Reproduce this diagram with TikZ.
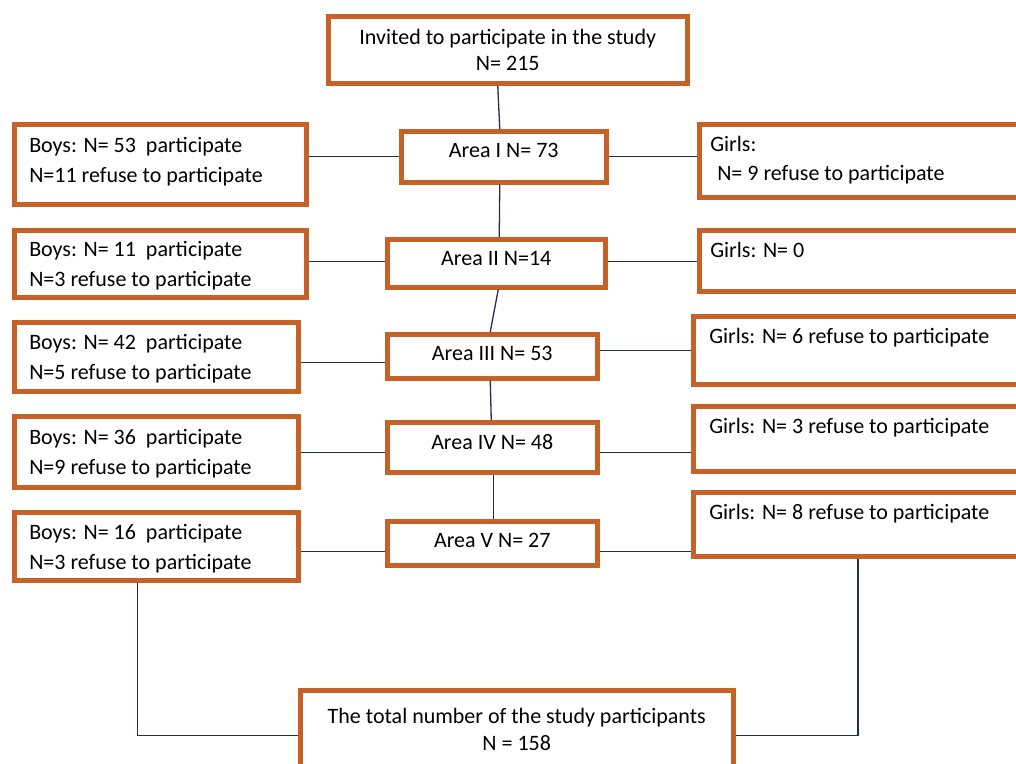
\documentclass[tikz,border=0pt]{standalone}
\usepackage{fontspec}
\setmainfont{Carlito}
\definecolor{boxorange}{RGB}{198,98,40}
\definecolor{linkblue}{RGB}{35,45,78}

\begin{document}
\begin{tikzpicture}[x=1pt,y=-1pt,
    box/.style={draw=boxorange,line width=4.5pt,anchor=north west,inner sep=0pt,font=\fontsize{22}{30}\selectfont,
        execute at begin node={\spaceskip=0pt\xspaceskip=0pt}},
    area/.style={box,minimum width=210pt,minimum height=46pt,text depth=6pt},
    boys/.style={box,align=flush left,inner xsep=15pt,text width=252pt,text depth=29pt,minimum height=70pt},
    girls/.style={box,align=flush left,inner xsep=16pt,text width=340pt,text height=27pt},
    link/.style={draw=linkblue,line width=1.3pt}]
\useasboundingbox (0,0) rectangle (1016,763);
\clip (0,0) rectangle (1016,763);

% centre column
\node[box,align=center,minimum width=359pt,minimum height=67pt] (invite) at (326,14) {Invited to participate in the study\\[-4pt]N= 215};
\node[area,minimum width=205pt,minimum height=51pt,text depth=12pt] (a1) at (399,129) {Area I N= 73};
\node[area,minimum width=218pt,minimum height=48pt,text depth=10pt] (a2) at (385,237) {Area II N=14};
\node[area,minimum height=44pt] (a3) at (385,332) {Area III N= 53};
\node[area,minimum height=50pt,text depth=10pt] (a4) at (385,420) {Area IV N= 48};
\node[area,minimum height=44pt] (a5) at (385,519) {Area V N= 27};

% boys
\node[boys,text width=262pt,text depth=39pt,minimum height=80pt] (b1) at (12,122) {Boys: N= 53~ participate\\N=11 refuse to participate};
\node[boys,text width=262pt,minimum height=67pt] (b2) at (12,228) {Boys: N= 11~ participate\\N=3 refuse to participate};
\node[boys,text width=254pt,minimum height=69pt] (b3) at (12,320) {Boys: N= 42~ participate\\N=5 refuse to participate};
\node[boys,text width=254pt,minimum height=71pt] (b4) at (12,414) {Boys: N= 36~ participate\\N=9 refuse to participate};
\node[boys,text width=254pt,minimum height=68pt] (b5) at (12,510) {Boys: N= 16~ participate\\N=3 refuse to participate};

% girls
\node[girls,inner xsep=11pt,text depth=46pt] (g1) at (697,122) {Girls:\\[-1pt]\hspace*{7pt}N= 9 refuse to participate};
\node[girls,inner xsep=11pt,text depth=34pt] (g2) at (697,228) {Girls: N= 0};
\node[girls,text depth=41pt] (g3) at (691,314) {Girls: N= 6 refuse to participate};
\node[girls,text depth=38pt] (g4) at (691,404) {Girls: N= 3 refuse to participate};
\node[girls,text depth=37pt] (g5) at (691,490) {Girls: N= 8 refuse to participate};

\node[box,align=flush center,text width=409pt,inner xsep=12pt,text height=33pt,text depth=57pt] (total) at (298,688) {The total number of the study participants\\[-3pt]N = 158};

\draw[link] ([xshift=-10pt]invite.south) -- ([xshift=-4pt]a1.north);
\draw[link] ([xshift=-4pt]a1.south) -- ([xshift=3pt]a2.north);
\draw[link] ([xshift=2pt]a2.south) -- ([xshift=-2pt]a3.north);
\draw[link] ([xshift=-2pt]a3.south) -- ([xshift=-1pt]a4.north);
\draw[link] ([xshift=1pt]a4.south) -- ([xshift=1pt]a5.north);

\foreach \i/\l/\r in {1/0/0,2/2/2,3/-6/6,4/-5/-5,5/-8/-8}{
    \coordinate (pl\i) at ([yshift=\l pt]a\i.west);
    \coordinate (pr\i) at ([yshift=\r pt]a\i.east);
    \draw[link] (pl\i) -- (pl\i -| b\i.east);
    \draw[link] (pr\i) -- (pr\i -| g\i.west);
}

\draw[link] ([xshift=-19pt]b5.south) |- (total.west);
\draw[link] ([xshift=167pt]g5.south west) |- (total.east);
\end{tikzpicture}
\end{document}
